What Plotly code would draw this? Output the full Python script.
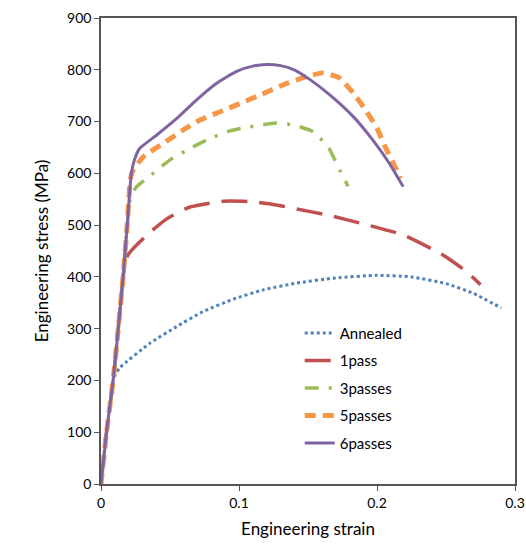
import plotly.graph_objects as go

# ---- data ----
annealed_strain = [0, 0.004, 0.0088, 0.0105, 0.0138, 0.0355, 0.0548, 0.074, 0.0959, 0.1176, 0.1418, 0.17, 0.2, 0.225, 0.25, 0.27, 0.29]
annealed_stress = [0, 100, 200, 212, 225, 272, 304, 333, 357, 375, 388, 398, 403, 400, 387, 368, 340]

pass1_strain = [0, 0.004, 0.0088, 0.0125, 0.016, 0.019, 0.0234, 0.035, 0.0476, 0.0645, 0.0886, 0.11, 0.127, 0.14, 0.165, 0.189, 0.219, 0.248, 0.265, 0.275]
pass1_stress = [0, 100, 200, 300, 400, 440, 455, 485, 512, 535, 546, 545, 539, 532, 519, 503, 481, 442, 410, 385]

pass3_strain = [0, 0.004, 0.0088, 0.0125, 0.016, 0.019, 0.0215, 0.0258, 0.0355, 0.05, 0.0645, 0.0778, 0.0935, 0.108, 0.127, 0.14, 0.154, 0.165, 0.173, 0.179]
pass3_stress = [0, 100, 200, 300, 400, 500, 555, 574, 595, 626, 648, 666, 682, 690, 697, 693, 680, 649, 606, 575]

pass5_strain = [0, 0.004, 0.0088, 0.0125, 0.016, 0.019, 0.0222, 0.0307, 0.0452, 0.0597, 0.0717, 0.0862, 0.1007, 0.115, 0.132, 0.149, 0.161, 0.173, 0.184, 0.1925, 0.2, 0.206, 0.213, 0.217]
pass5_stress = [0, 100, 200, 300, 400, 500, 600, 632, 658, 684, 703, 719, 735, 751, 771, 787, 794, 784, 751, 719, 687, 651, 613, 590]

pass6_strain = [0, 0.004, 0.0088, 0.0125, 0.016, 0.019, 0.022, 0.0245, 0.028, 0.0404, 0.0549, 0.0693, 0.0838, 0.0983, 0.11, 0.12, 0.13, 0.14, 0.152, 0.166, 0.183, 0.197, 0.209, 0.219]
pass6_stress = [0, 100, 200, 300, 400, 500, 600, 628, 648, 674, 706, 742, 774, 797, 807, 810, 808, 800, 780, 751, 709, 664, 619, 574]

series_names = ["Annealed", "1pass", "3passes", "5passes", "6passes"]

x_ticks = [0, 0.1, 0.2, 0.3]
x_tick_labels = ["0", "0.1", "0.2", "0.3"]
y_ticks = [0, 100, 200, 300, 400, 500, 600, 700, 800, 900]

FONT = "Lato"

styles = [
    dict(color="#4F81BD", width=3, dash="dot"),
    dict(color="#C0504D", width=3.5, dash="26px,12px"),
    dict(color="#9BBB59", width=3.5, dash="14px,10px,3px,10px"),
    dict(color="#F79646", width=5, dash="11px,7px"),
    dict(color="#8064A2", width=3, dash="solid"),
]

data = [
    (annealed_strain, annealed_stress),
    (pass1_strain, pass1_stress),
    (pass3_strain, pass3_stress),
    (pass5_strain, pass5_stress),
    (pass6_strain, pass6_stress),
]

fig = go.Figure()
for (xs, ys), name, st in zip(data, series_names, styles):
    fig.add_trace(go.Scatter(
        x=xs, y=ys, mode="lines", name=name,
        line=dict(shape="spline", smoothing=0.5, **st),
        legendgroup=name,
    ))

fig.update_layout(
    width=526, height=554,
    margin=dict(l=101, r=11, t=18, b=70),
    paper_bgcolor="white", plot_bgcolor="white",
    font=dict(family=FONT, size=14, color="#000000"),
    showlegend=True,
    legend=dict(
        x=0.48, y=0.359, xanchor="left", yanchor="top",
        bgcolor="rgba(0,0,0,0)", font=dict(family=FONT, size=15),
        traceorder="grouped", tracegroupgap=5,
    ),
    xaxis=dict(
        range=[0, 0.3], tickvals=x_ticks, ticktext=x_tick_labels,
        showgrid=False, zeroline=False, automargin=False,
        showline=True, linecolor="#555555", linewidth=1.5, mirror=True,
        ticks="outside", ticklen=5, tickcolor="#555555",
        tickfont=dict(size=14, family=FONT),
        title=dict(text="Engineering strain", font=dict(size=17, family=FONT), standoff=14),
    ),
    yaxis=dict(
        range=[0, 900], tickvals=y_ticks,
        showgrid=False, zeroline=False, automargin=False,
        showline=True, linecolor="#555555", linewidth=1.5, mirror=True,
        ticks="outside", ticklen=5, tickcolor="#555555",
        tickfont=dict(size=14, family=FONT),
        title=dict(text="Engineering stress (MPa)", font=dict(size=17, family=FONT), standoff=14),
    ),
)

fig.write_html(
    "out.html",
    config={"displayModeBar": False},
    post_script="document.body.style.margin='0';document.body.style.overflow='hidden';",
)
